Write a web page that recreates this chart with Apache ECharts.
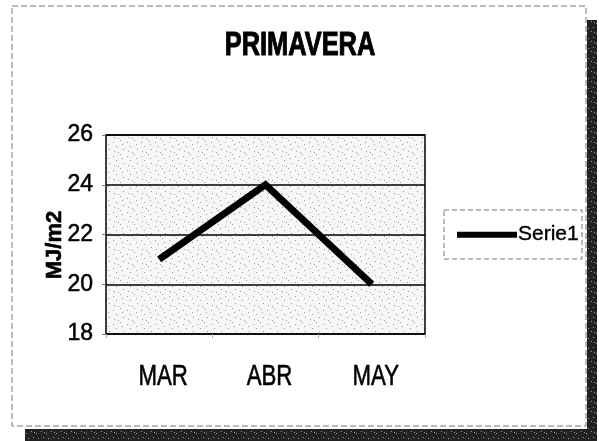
<!DOCTYPE html>
<html>
<head>
<meta charset="utf-8">
<script src="https://cdn.jsdelivr.net/npm/echarts@6/dist/echarts.min.js"></script>
<style>
  html, body { margin: 0; padding: 0; background: #fff; }
  #chart { width: 599px; height: 441px; }
</style>
</head>
<body>
<div id="chart"></div>
<script>
// datos
var categories = ['MAR', 'ABR', 'MAY'];
var serie1 = [21, 24, 20];
var yTicks = [18, 20, 22, 24, 26];

var font = '"Liberation Sans", Arial, sans-serif';

// textura punteada del fondo del area de trazado
function dotPattern() {
  var c = document.createElement('canvas');
  c.width = 14; c.height = 14;
  var ctx = c.getContext('2d');
  ctx.fillStyle = '#f6f6f6';
  ctx.fillRect(0, 0, 14, 14);
  ctx.fillStyle = '#9a9a9a';
  var pts = [[1, 2], [8, 0], [4, 6], [11, 9], [2, 11], [10, 4], [6, 12]];
  pts.forEach(function (p) { ctx.fillRect(p[0], p[1], 1, 1); });
  return c;
}

// textura de la sombra
function shadowPattern() {
  var c = document.createElement('canvas');
  c.width = 10; c.height = 10;
  var ctx = c.getContext('2d');
  ctx.fillStyle = '#222';
  ctx.fillRect(0, 0, 10, 10);
  ctx.fillStyle = '#999';
  var pts = [[1, 1], [6, 3], [3, 7], [8, 8], [4, 2]];
  pts.forEach(function (p) { ctx.fillRect(p[0], p[1], 1, 1); });
  return c;
}

var chart = echarts.init(document.getElementById('chart'));
chart.setOption({
  backgroundColor: '#fff',
  animation: false,
  grid: {
    left: 106, right: 174, top: 135, bottom: 107,
    show: true,
    borderColor: '#000',
    borderWidth: 1.5,
    backgroundColor: { image: dotPattern(), repeat: 'repeat' }
  },
  legend: {
    left: 452, top: 219,
    icon: 'rect',
    itemWidth: 60, itemHeight: 6,
    itemGap: 0,
    textStyle: { fontFamily: font, fontSize: 21, color: '#000', padding: [0, 0, 0, -4],
                 textBorderColor: '#000', textBorderWidth: 0.4 }
  },
  xAxis: {
    type: 'category',
    data: categories,
    axisLine: { show: false },
    axisTick: { show: true, length: 4, lineStyle: { color: '#aaa' } },
    axisLabel: { show: false },
    splitLine: { show: false }
  },
  yAxis: {
    type: 'value',
    min: yTicks[0],
    max: yTicks[yTicks.length - 1],
    interval: 2,
    axisLine: { show: false },
    axisTick: { show: true, length: 6, lineStyle: { color: '#777', type: 'dashed' } },
    axisLabel: { fontFamily: font, fontSize: 23, color: '#000', margin: 13,
                 textBorderColor: '#000', textBorderWidth: 0.5 },
    splitLine: { show: true, lineStyle: { color: '#000', width: 1.5 } }
  },
  series: [{
    name: 'Serie1',
    type: 'line',
    data: serie1,
    symbol: 'none',
    lineStyle: { color: '#000', width: 7, join: 'miter' },
    itemStyle: { color: '#000' }
  }]
});

// textos estrechos (fuente condensada) y marco del grafico
var graphics = [
  { type: 'rect', shape: { x: 12, y: 6, width: 574, height: 420 },
    style: { fill: null, stroke: '#777', lineWidth: 1, lineDash: [6, 3] }, z: -1 },
  { type: 'rect', shape: { x: 587, y: 20, width: 10, height: 421 },
    style: { fill: { image: shadowPattern(), repeat: 'repeat' } }, z: -1 },
  { type: 'rect', shape: { x: 25, y: 429, width: 572, height: 12 },
    style: { fill: { image: shadowPattern(), repeat: 'repeat' } }, z: -1 },
  { type: 'rect', shape: { x: 444, y: 210, width: 138, height: 49 },
    style: { fill: '#fff', stroke: '#777', lineWidth: 1, lineDash: [5, 3] }, z: 0 },
  { type: 'text', x: 300, y: 46, scaleX: 0.77, z: 10,
    style: { text: 'PRIMAVERA', font: 'bold 33px ' + font, fill: '#000',
             stroke: '#000', lineWidth: 1,
             textAlign: 'center', textVerticalAlign: 'middle' } },
  { type: 'text', x: 55, y: 245, rotation: Math.PI / 2, z: 10,
    style: { text: 'MJ/m2', font: 'bold 22px ' + font, fill: '#000',
             stroke: '#000', lineWidth: 0.6,
             textAlign: 'center', textVerticalAlign: 'middle' } }
];
categories.forEach(function (c) {
  var px = chart.convertToPixel({ xAxisIndex: 0 }, c);
  graphics.push({ type: 'text', x: px + 4, y: 377, scaleX: 0.74, z: 10,
    style: { text: c, font: '30px ' + font, fill: '#000',
             stroke: '#000', lineWidth: 0.6,
             textAlign: 'center', textVerticalAlign: 'middle' } });
});
chart.setOption({ graphic: graphics });
</script>
</body>
</html>
